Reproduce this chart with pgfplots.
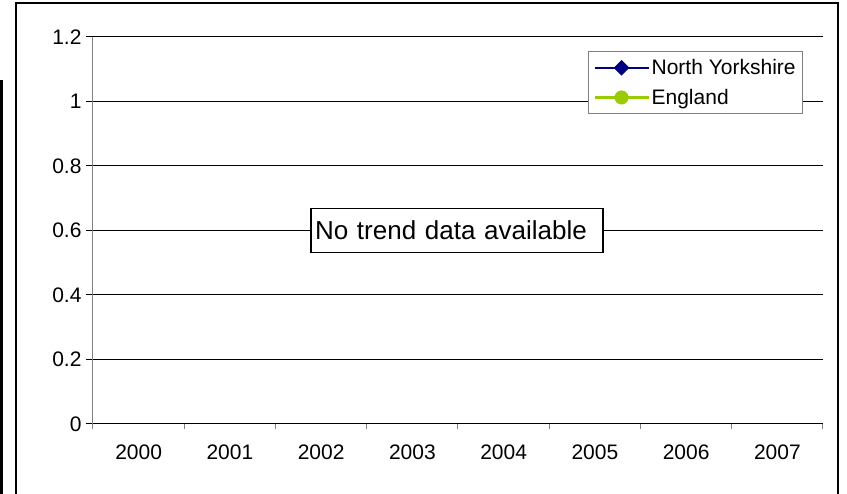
\documentclass[border=0pt]{standalone}
\usepackage{pgfplots}
\pgfplotsset{compat=1.18}
\usepackage{fontspec}
\setmainfont{Liberation Sans}
\definecolor{nyblue}{HTML}{000080}
\definecolor{enggreen}{HTML}{99CC00}
\definecolor{axgray}{HTML}{808080}
\begin{document}
\begin{tikzpicture}[x=1pt,y=1pt]
\useasboundingbox (0,0) rectangle (847,494);
\draw[line width=1.3pt] (16,-5) -- (16,491) -- (838,491) -- (838,-5);
\draw[line width=3pt] (1.5,-5) -- (1.5,414);
\begin{axis}[
  at={(93pt,70pt)}, anchor=south west,
  width=730pt, height=387pt, scale only axis,
  xmin=-0.5, xmax=7.5, ymin=0, ymax=1.2,
  axis x line*=bottom, axis y line*=left,
  x axis line style={black, line width=1pt, -},
  y axis line style={axgray, line width=1pt, -},
  xtick={0,1,2,3,4,5,6,7},
  xticklabels={2000,2001,2002,2003,2004,2005,2006,2007},
  x tick style={draw=none},
  extra x ticks={-0.5,0.5,1.5,2.5,3.5,4.5,5.5,6.5,7.5},
  extra x tick labels={},
  extra x tick style={grid=none, major tick length=5pt, x tick style={draw=axgray, line width=1pt}},
  ytick={0,0.2,0.4,0.6,0.8,1,1.2},
  yticklabels={0,0.2,0.4,0.6,0.8,1,1.2},
  y tick style={black, line width=1pt},
  tick align=outside,
  major tick length=7pt,
  ymajorgrids,
  major grid style={black, line width=1pt},
  /pgf/number format/assume math mode=true,
  tick label style={font=\fontsize{21}{25}\selectfont},
  yticklabel style={xshift=-1pt},
  xticklabel style={yshift=-10pt},
  legend style={at={(0.678,0.964)}, anchor=north west, draw=axgray, line width=1pt,
    font=\fontsize{21}{25}\selectfont, fill=white, inner xsep=5pt, inner ysep=6pt,
    row sep=9pt},
  legend cell align=left,
  legend image code/.code={\draw[mark repeat=2,mark phase=2,#1,line width=2.2pt] plot coordinates {(0pt,0pt) (27pt,0pt) (54pt,0pt)};},
]
\addlegendimage{color=nyblue, mark=square*, mark size=5pt, mark options={solid, rotate=45, fill=nyblue, line width=1pt}}
\addlegendentry{North Yorkshire}
\addlegendimage{color=enggreen, mark=*, mark size=6.5pt, mark options={solid, fill=enggreen, line width=1pt}}
\addlegendentry{England}
\node[draw=black, line width=1.3pt, fill=white, inner xsep=4pt, inner ysep=0pt,
  minimum height=44pt, text width=284pt, align=left,
  font=\fontsize{26}{30}\selectfont] at (axis cs:3.49,0.6) {No trend data available};
\end{axis}
\end{tikzpicture}
\end{document}
